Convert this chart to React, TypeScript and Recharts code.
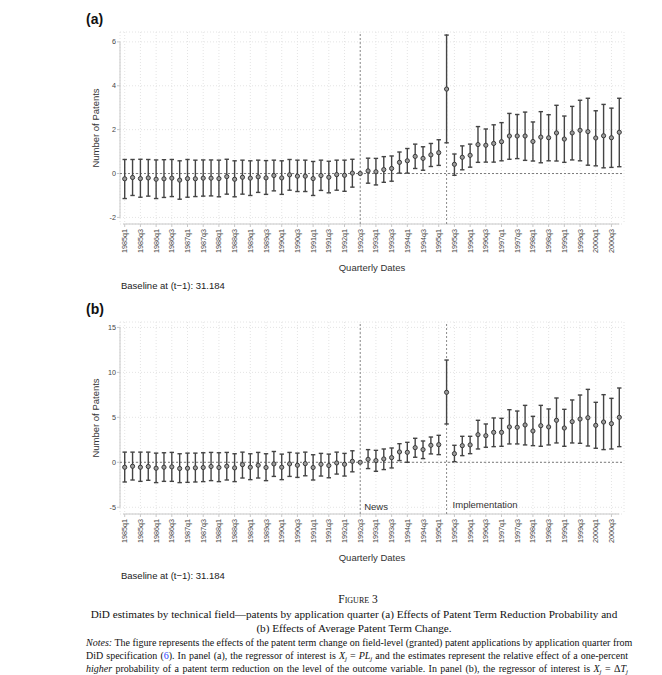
import React from 'react';
import {
  ComposedChart,
  Scatter,
  ErrorBar,
  XAxis,
  YAxis,
  CartesianGrid,
  ReferenceLine,
} from 'recharts';

const quarters = [
  '1985q1', '1985q2', '1985q3', '1985q4', '1986q1', '1986q2', '1986q3', '1986q4',
  '1987q1', '1987q2', '1987q3', '1987q4', '1988q1', '1988q2', '1988q3', '1988q4',
  '1989q1', '1989q2', '1989q3', '1989q4', '1990q1', '1990q2', '1990q3', '1990q4',
  '1991q1', '1991q2', '1991q3', '1991q4', '1992q1', '1992q2', '1992q3', '1992q4',
  '1993q1', '1993q2', '1993q3', '1993q4', '1994q1', '1994q2', '1994q3', '1994q4',
  '1995q1', '1995q2', '1995q3', '1995q4', '1996q1', '1996q2', '1996q3', '1996q4',
  '1997q1', '1997q2', '1997q3', '1997q4', '1998q1', '1998q2', '1998q3', '1998q4',
  '1999q1', '1999q2', '1999q3', '1999q4', '2000q1', '2000q2', '2000q3', '2000q4',
];

// panel (a): point estimates and 95% CI bounds
const estA = [
  -0.24, -0.18, -0.23, -0.2, -0.26, -0.24, -0.21, -0.3, -0.23, -0.24, -0.21, -0.21,
  -0.23, -0.14, -0.26, -0.17, -0.21, -0.15, -0.2, -0.09, -0.2, -0.06, -0.12, -0.12,
  -0.23, -0.09, -0.17, -0.05, -0.08, 0.02, 0, 0.12, 0.08, 0.18, 0.23, 0.51,
  0.58, 0.78, 0.69, 0.85, 0.95, 3.85, 0.42, 0.74, 0.83, 1.32, 1.29, 1.37,
  1.45, 1.71, 1.71, 1.71, 1.46, 1.66, 1.63, 1.85, 1.57, 1.85, 1.97, 1.91,
  1.62, 1.72, 1.63, 1.88,
];
const loA = [
  -1.14, -1.0, -1.08, -1.03, -1.14, -1.09, -1.05, -1.17, -1.08, -1.05, -1.03, -1.02,
  -1.06, -0.94, -1.06, -0.94, -1.0, -0.86, -0.95, -0.79, -0.95, -0.76, -0.82, -0.82,
  -1.0, -0.77, -0.88, -0.76, -0.81, -0.62, 0, -0.44, -0.52, -0.4, -0.35, 0.02,
  0.02, 0.23, 0.15, 0.32, 0.37, 1.4, -0.08, 0.17, 0.29, 0.51, 0.52, 0.52,
  0.58, 0.65, 0.68, 0.6, 0.57, 0.49, 0.58, 0.57, 0.51, 0.62, 0.58, 0.38,
  0.35, 0.26, 0.28, 0.31,
];
const hiA = [
  0.64, 0.64, 0.65, 0.64, 0.62, 0.63, 0.64, 0.58, 0.64, 0.61, 0.62, 0.62,
  0.61, 0.65, 0.58, 0.61, 0.58, 0.61, 0.59, 0.61, 0.58, 0.64, 0.61, 0.61,
  0.55, 0.61, 0.56, 0.61, 0.61, 0.65, 0, 0.7, 0.69, 0.77, 0.8, 0.98,
  1.14, 1.34, 1.22, 1.37, 1.54, 6.31, 0.89, 1.26, 1.34, 2.14, 2.03, 2.22,
  2.32, 2.74, 2.69, 2.8, 2.35, 2.82, 2.68, 3.11, 2.62, 3.06, 3.34, 3.43,
  2.86, 3.15, 2.98, 3.43,
];

// panel (b)
const estB = [
  -0.55, -0.44, -0.55, -0.47, -0.66, -0.55, -0.51, -0.69, -0.66, -0.62, -0.58, -0.47,
  -0.58, -0.44, -0.62, -0.26, -0.55, -0.33, -0.58, -0.18, -0.55, -0.18, -0.33, -0.15,
  -0.58, -0.22, -0.36, -0.07, -0.22, 0.11, 0, 0.33, 0.19, 0.37, 0.52, 1.15,
  1.11, 1.63, 1.41, 1.89, 1.96, 7.78, 0.96, 1.85, 1.93, 3.07, 2.96, 3.33,
  3.33, 3.93, 3.89, 4.15, 3.48, 4.07, 3.93, 4.67, 3.81, 4.52, 4.81, 4.96,
  4.11, 4.48, 4.3, 5.0,
];
const loB = [
  -2.19, -1.97, -2.12, -2.0, -2.26, -2.12, -2.12, -2.26, -2.23, -2.19, -2.15, -2.04,
  -2.15, -1.97, -2.15, -1.75, -1.93, -1.75, -2.04, -1.57, -1.93, -1.57, -1.68, -1.5,
  -1.97, -1.53, -1.72, -1.31, -1.53, -1.06, 0, -0.7, -1.0, -0.81, -0.63, 0.19,
  0.0, 0.56, 0.41, 0.93, 0.85, 4.26, 0.07, 0.74, 0.96, 1.48, 1.67, 1.74,
  1.78, 2.04, 2.04, 1.93, 1.85, 1.78, 1.93, 2.15, 1.78, 2.15, 2.11, 1.81,
  1.56, 1.41, 1.48, 1.74,
];
const hiB = [
  1.13, 1.13, 1.13, 1.13, 1.02, 1.06, 1.1, 0.95, 1.02, 1.02, 1.06, 1.1,
  1.06, 1.1, 0.95, 1.13, 0.95, 1.1, 0.95, 1.2, 0.91, 1.1, 1.02, 1.13,
  0.84, 0.99, 0.91, 1.13, 0.99, 1.28, 0, 1.41, 1.33, 1.48, 1.59, 2.07,
  2.22, 2.67, 2.37, 2.81, 3.0, 11.37, 1.89, 2.89, 2.89, 4.67, 4.26, 4.93,
  4.89, 5.85, 5.7, 6.33, 5.11, 6.33, 5.93, 7.15, 5.89, 6.93, 7.48, 8.11,
  6.67, 7.52, 7.11, 8.26,
];

const yTicksA = [-2, 0, 2, 4, 6];
const yTicksB = [-5, 0, 5, 10, 15];
const newsQuarter = '1992q3';
const implQuarter = '1995q2';

const sans = '"Liberation Sans", Arial, sans-serif';
const serif = '"Liberation Serif", "Times New Roman", serif';

const tickIdx = quarters.map((_, i) => i).filter((i) => i % 2 === 0);

const QuarterTick = ({ x, y, payload }: any) => (
  <text
    x={x}
    y={y}
    transform={`rotate(-90, ${x}, ${y})`}
    textAnchor="end"
    dy="0.35em"
    fontSize={7.2}
    fill="#444"
    fontFamily={sans}
  >
    {quarters[payload.value]}
  </text>
);

const Dot = ({ cx, cy }: any) => (
  <circle cx={cx} cy={cy} r={2.1} fill="#9c9c9c" stroke="#3a3a3a" strokeWidth={1} />
);

function Panel({ top, tag, est, lo, hi, domain, ticks, events }: any) {
  const data = quarters.map((q, i) => ({
    x: i,
    y: est[i],
    err: hi[i] === lo[i] ? undefined : [est[i] - lo[i], hi[i] - est[i]],
  }));
  const news = quarters.indexOf(newsQuarter);
  const impl = quarters.indexOf(implQuarter);

  return (
    <div style={{ position: 'absolute', left: 0, top, width: 662, height: 290 }}>
      <ComposedChart
        width={662}
        height={290}
        margin={{ top: 32, right: 38, bottom: 0, left: 0 }}
      >
        <CartesianGrid stroke="#e4e4e4" strokeDasharray="1 2" />
        <XAxis
          type="number"
          dataKey="x"
          domain={[-0.6, 63.6]}
          ticks={tickIdx}
          interval={0}
          height={66}
          axisLine={false}
          tickLine={{ stroke: '#c8c8c8' }}
          tickSize={3}
          tick={<QuarterTick />}
        />
        <YAxis
          type="number"
          dataKey="y"
          domain={domain}
          ticks={ticks}
          interval={0}
          width={120}
          axisLine={false}
          tickLine={{ stroke: '#c8c8c8' }}
          tickSize={3}
          tickMargin={1}
          tick={{ fontSize: 7.2, fill: '#444', fontFamily: sans }}
        />
        <ReferenceLine
          segment={[{ x: -0.6, y: ticks[0] }, { x: -0.6, y: ticks[ticks.length - 1] }]}
          stroke="#c8c8c8"
          ifOverflow="visible"
        />
        <ReferenceLine
          segment={[{ x: -0.2, y: domain[0] }, { x: 63, y: domain[0] }]}
          stroke="#c8c8c8"
          ifOverflow="visible"
        />
        <ReferenceLine y={0} stroke="#7a7a7a" strokeDasharray="2 2" />
        <ReferenceLine
          x={news}
          stroke="#8a8a8a"
          strokeDasharray="2 2"
          label={events ? { value: 'News', position: 'insideBottomLeft', offset: 4, fontSize: 9.5, fill: '#333', fontFamily: sans } : undefined}
        />
        <ReferenceLine
          x={impl}
          stroke="#8a8a8a"
          strokeDasharray="2 2"
          label={events ? { value: 'Implementation', position: 'insideBottomLeft', offset: 6, fontSize: 9.5, fill: '#333', fontFamily: sans } : undefined}
        />
        <Scatter data={data} dataKey="y" isAnimationActive={false} shape={<Dot />}>
          <ErrorBar dataKey="err" direction="y" width={2.2} stroke="#444" strokeWidth={1.4} />
        </Scatter>
      </ComposedChart>
      <div style={{ position: 'absolute', left: 86, top: 10, fontFamily: sans, fontWeight: 'bold', fontSize: 14, lineHeight: '18px', color: '#111' }}>
        {tag}
      </div>
      <div
        style={{
          position: 'absolute', left: 95, top: 128, transform: 'translate(-50%, -50%) rotate(-90deg)',
          whiteSpace: 'nowrap', fontFamily: sans, fontSize: 9.5, color: '#333',
        }}
      >
        Number of Patents
      </div>
      <div
        style={{
          position: 'absolute', left: 372, top: 267, transform: 'translate(-50%, -50%)',
          whiteSpace: 'nowrap', fontFamily: sans, fontSize: 9.5, color: '#333',
        }}
      >
        Quarterly Dates
      </div>
      <div
        style={{
          position: 'absolute', left: 121, top: 285, transform: 'translateY(-50%)',
          whiteSpace: 'nowrap', fontFamily: sans, fontSize: 9.5, color: '#222',
        }}
      >
        Baseline at (t−1): 31.184
      </div>
    </div>
  );
}

const sub: React.CSSProperties = { fontSize: '0.7em', verticalAlign: '-0.3em', lineHeight: 0, fontStyle: 'italic' };
const line: React.CSSProperties = {
  position: 'absolute', left: 86, width: 542, fontFamily: serif, fontSize: 10,
  lineHeight: '13px', color: '#111', textAlign: 'justify', textAlignLast: 'justify', whiteSpace: 'nowrap',
};
const caption: React.CSSProperties = {
  position: 'absolute', left: 0, width: 708, textAlign: 'center', fontFamily: serif,
  fontSize: 11.2, lineHeight: '14px', color: '#111', whiteSpace: 'nowrap',
};

export default function App() {
  return (
    <div style={{ position: 'absolute', left: 0, top: 0, width: 662, height: 675, background: '#fff', overflow: 'hidden' }}>
      <Panel top={0} tag="(a)" est={estA} lo={loA} hi={hiA} domain={[-2.3, 6.45]} ticks={yTicksA} events={false} />
      <Panel top={290} tag="(b)" est={estB} lo={loB} hi={hiB} domain={[-5.75, 15.6]} ticks={yTicksB} events />

      <div style={{ ...caption, width: 716, top: 592, fontSize: 11.5, fontVariant: 'small-caps' }}>
        Figure 3
      </div>
      <div style={{ ...caption, top: 607 }}>
        DiD estimates by technical field—patents by application quarter (a) Effects of Patent Term Reduction Probability and
      </div>
      <div style={{ ...caption, top: 621 }}>
        (b) Effects of Average Patent Term Change.
      </div>
      <div style={{ ...line, top: 636 }}>
        <i>Notes:</i> The figure represents the effects of the patent term change on field-level (granted) patent applications by application quarter from
      </div>
      <div style={{ ...line, top: 649 }}>
        DiD specification (<span style={{ color: '#2a3cff' }}>6</span>). In panel (a), the regressor of interest is <i>X</i><span style={sub}>j</span> = <i>PL</i><span style={sub}>j</span> and the estimates represent the relative effect of a one-percent
      </div>
      <div style={{ ...line, top: 662 }}>
        <i>higher</i> probability of a patent term reduction on the level of the outcome variable. In panel (b), the regressor of interest is <i>X</i><span style={sub}>j</span> = Δ<i>T</i><span style={sub}>j</span>
      </div>
    </div>
  );
}
